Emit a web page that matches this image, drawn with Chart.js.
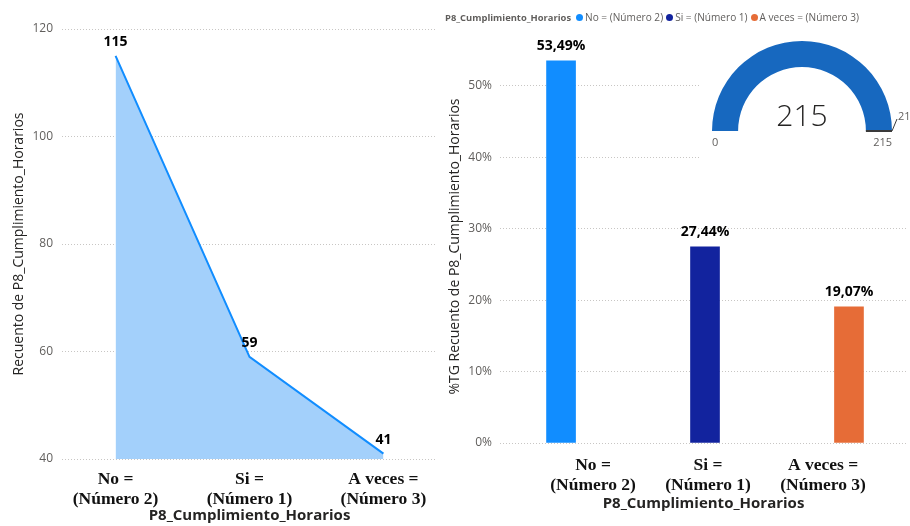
<!DOCTYPE html>
<html>
<head>
<meta charset="utf-8">
<script src="https://cdn.jsdelivr.net/npm/chart.js@4.4.1/dist/chart.umd.min.js"></script>
<style>
  html, body { margin: 0; padding: 0; background: #fff; width: 910px; height: 526px; overflow: hidden; }
  #countChart { position: absolute; left: 0; top: 0; }
  #shareChart { position: absolute; left: 440px; top: 0; }
  #gaugeBox { position: absolute; left: 700px; top: 30px; width: 210px; height: 135px; background: #fff; }
  #legend { position: absolute; left: 445px; top: 10px; height: 14px; display: flex; align-items: center;
            white-space: nowrap; font-family: 'Open Sans', 'Noto Sans', sans-serif; font-size: 10.1px; color: #605E5C; }
  #legend .title { font-weight: 700; font-size: 9.4px; margin-right: 2px; }
  #legend .dot { display: inline-block; width: 7px; height: 7px; border-radius: 50%; margin: 0 2px 0 3px; }
</style>
</head>
<body>
<canvas id="countChart" width="440" height="526"></canvas>
<canvas id="shareChart" width="470" height="526"></canvas>
<div id="legend"></div>
<div id="gaugeBox"><canvas id="gaugeChart" width="210" height="135"></canvas></div>
<script>
// Answer categories (wrapped onto two lines for the axis) and their legend names
const categories = [['No =', '(Número 2)'], ['Si =', '(Número 1)'], ['A veces =', '(Número 3)']];
const legendNames = ['No = (Número 2)', 'Si = (Número 1)', 'A veces = (Número 3)'];
const fieldName = 'P8_Cumplimiento_Horarios';

// Count of answers per category
const counts = [115, 59, 41];
const countTicks = [40, 60, 80, 100, 120];

// Share of the grand total per category (%)
const shares = [53.49, 27.44, 19.07];
const shareTicks = [0, 10, 20, 30, 40, 50];

// Gauge: total responses
const gaugeMin = 0;
const gaugeMax = 215;
const gaugeValue = 215;
const gaugeTarget = 215;

const barColors = ['#118DFF', '#12239E', '#E66C37'];

const uiFont = "'Open Sans', 'Noto Sans', sans-serif";
const serifBold = { family: "'Liberation Serif', 'Times New Roman', serif", weight: 'bold', size: 17.5, lineHeight: '20px' };
const axisTitleFont = { family: uiFont, weight: 'bold', size: 15 };
const gridColor = '#C8C6C4';

// legend row above the bar chart
const legendEl = document.getElementById('legend');
legendEl.innerHTML = '<span class="title">' + fieldName + '</span>' +
  legendNames.map((n, i) => '<span class="dot" style="background:' + barColors[i] + '"></span><span>' + n + '</span>').join('');

// value labels above points / bars
const valueLabels = {
  id: 'valueLabels',
  afterDatasetsDraw(chart, args, opts) {
    const ctx = chart.ctx;
    const meta = chart.getDatasetMeta(0);
    const values = chart.data.datasets[0].data;
    ctx.save();
    ctx.font = '700 14px ' + uiFont;
    ctx.fillStyle = '#000';
    ctx.textAlign = 'center';
    ctx.textBaseline = 'middle';
    meta.data.forEach((el, i) => {
      ctx.fillText(opts.format(values[i].y), el.x, el.y - opts.offset);
    });
    ctx.restore();
  }
};

const categoryTicks = (scale) => { scale.ticks = categories.map((c, i) => ({ value: i })); };

// ---------- Count area chart ----------
new Chart(document.getElementById('countChart'), {
  type: 'line',
  data: {
    datasets: [{
      data: counts.map((v, i) => ({ x: i, y: v })),
      borderColor: '#118DFF',
      borderWidth: 2,
      backgroundColor: '#A3D0FB',
      fill: 'start',
      pointRadius: 0,
      tension: 0
    }]
  },
  options: {
    responsive: false,
    devicePixelRatio: 1,
    animation: false,
    layout: { padding: { top: 29, right: 3, bottom: 0, left: 0 } },
    plugins: {
      legend: { display: false },
      tooltip: { enabled: false },
      valueLabels: { offset: 14, format: v => String(v) }
    },
    scales: {
      x: {
        type: 'linear', min: -0.4, max: 2.4, offset: false,
        afterBuildTicks: categoryTicks,
        afterFit: s => { s.height = 67; },
        grid: { display: false },
        border: { display: false },
        ticks: { callback: v => categories[v], font: serifBold, color: '#111', padding: 2, maxRotation: 0, autoSkip: false },
        title: { display: true, text: fieldName, color: '#252423', font: axisTitleFont, padding: { top: 0, bottom: 1 } }
      },
      y: {
        min: 40, max: 120,
        afterBuildTicks: s => { s.ticks = countTicks.map(v => ({ value: v })); },
        afterFit: s => { s.width = 62; },
        grid: { color: gridColor, lineWidth: 1, drawTicks: false },
        border: { display: false, dash: [1, 2] },
        ticks: { color: '#605E5C', font: { family: uiFont, size: 12 }, padding: 9 },
        title: { display: true, text: 'Recuento de ' + fieldName, color: '#252423', font: { family: uiFont, size: 14 }, padding: { top: 11 } }
      }
    }
  },
  plugins: [valueLabels]
});

// ---------- Share bar chart ----------
new Chart(document.getElementById('shareChart'), {
  type: 'bar',
  data: {
    datasets: [{
      data: shares.map((v, i) => ({ x: i, y: v })),
      backgroundColor: barColors,
      borderWidth: 0,
      barThickness: 29
    }]
  },
  options: {
    responsive: false,
    devicePixelRatio: 1,
    animation: false,
    layout: { padding: { top: 50, right: 3, bottom: 0, left: 0 } },
    plugins: {
      legend: { display: false },
      tooltip: { enabled: false },
      valueLabels: { offset: 15, format: v => v.toFixed(2).replace('.', ',') + '%' }
    },
    scales: {
      x: { type: 'linear', min: -0.424, max: 2.403, offset: false, display: false },
      xLabels: {
        type: 'linear', position: 'bottom', min: -0.809, max: 2.73, offset: false,
        afterBuildTicks: categoryTicks,
        afterFit: s => { s.height = 83; },
        grid: { display: false },
        border: { display: false },
        ticks: { callback: v => categories[v], font: serifBold, color: '#111', padding: 4, maxRotation: 0, autoSkip: false },
        title: { display: true, text: fieldName, color: '#252423', font: axisTitleFont, padding: { top: 0, bottom: 13 } }
      },
      y: {
        min: 0, max: 55,
        afterBuildTicks: s => { s.ticks = shareTicks.map(v => ({ value: v })); },
        afterFit: s => { s.width = 60; },
        grid: { color: gridColor, lineWidth: 1, drawTicks: false },
        border: { display: false, dash: [1, 2] },
        ticks: { color: '#605E5C', font: { family: uiFont, size: 12 }, padding: 8, callback: v => v + '%' },
        title: { display: true, text: '%TG Recuento de ' + fieldName, color: '#252423', font: { family: uiFont, size: 14 }, padding: { top: 7 } }
      }
    }
  },
  plugins: [valueLabels]
});

// ---------- Gauge ----------
const gaugeLabels = {
  id: 'gaugeLabels',
  afterDraw(chart) {
    const arc = chart.getDatasetMeta(0).data[0];
    const { x: cx, y: cy, outerRadius: R, innerRadius: r } = arc;
    const ctx = chart.ctx;
    ctx.save();
    // centre value
    ctx.fillStyle = '#252423';
    ctx.font = '300 30px ' + uiFont;
    ctx.textAlign = 'center';
    ctx.textBaseline = 'middle';
    ctx.fillText(String(gaugeValue), cx, cy - 14);
    // min / max
    ctx.fillStyle = '#605E5C';
    ctx.font = '11px ' + uiFont;
    ctx.textAlign = 'left';
    ctx.fillText(String(gaugeMin), cx - R, cy + 12);
    ctx.textAlign = 'right';
    ctx.fillText(String(gaugeMax), cx + R, cy + 12);
    // target marker
    const ang = Math.PI + Math.PI * (gaugeTarget - gaugeMin) / (gaugeMax - gaugeMin);
    const ux = Math.cos(ang), uy = Math.sin(ang);
    ctx.strokeStyle = '#3A3A3A';
    ctx.lineWidth = 2;
    ctx.beginPath();
    ctx.moveTo(cx + ux * r, cy + uy * r);
    ctx.lineTo(cx + ux * R, cy + uy * R);
    ctx.stroke();
    ctx.lineWidth = 1;
    ctx.beginPath();
    ctx.moveTo(cx + ux * R, cy + uy * R);
    ctx.lineTo(cx + ux * R + 5, cy + uy * R - 12);
    ctx.stroke();
    ctx.textAlign = 'left';
    ctx.fillText(String(gaugeTarget), cx + ux * R + 6, cy + uy * R - 14);
    ctx.restore();
  }
};

new Chart(document.getElementById('gaugeChart'), {
  type: 'doughnut',
  data: {
    datasets: [{
      data: [gaugeValue - gaugeMin, gaugeMax - gaugeValue],
      backgroundColor: ['#1768BF', '#E1E1E1'],
      borderWidth: 0,
      hoverOffset: 0
    }]
  },
  options: {
    responsive: false,
    devicePixelRatio: 1,
    animation: false,
    rotation: -90,
    circumference: 180,
    cutout: '71%',
    layout: { padding: { top: 11, right: 18, bottom: 34, left: 12 } },
    plugins: { legend: { display: false }, tooltip: { enabled: false } }
  },
  plugins: [gaugeLabels]
});
</script>
</body>
</html>
